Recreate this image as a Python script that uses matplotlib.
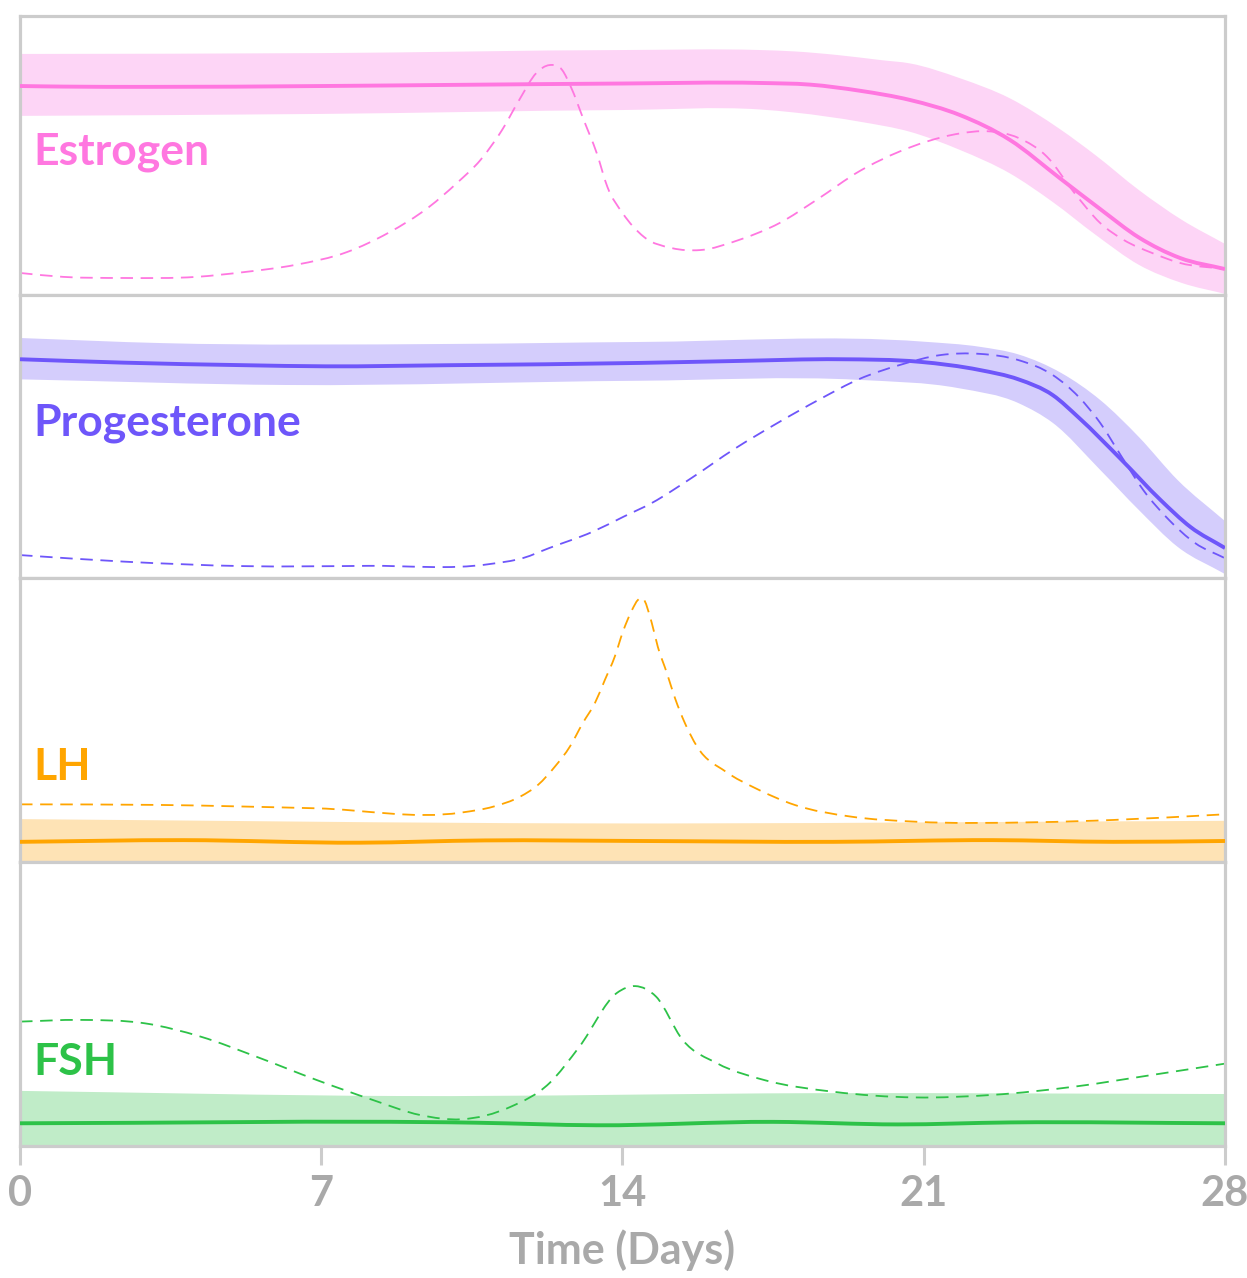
import numpy as np
import matplotlib
matplotlib.use("Agg")
import matplotlib.pyplot as plt
from matplotlib.path import Path
from matplotlib.patches import PathPatch

# ---------------- data (levels on a 0-100 scale per panel) ----------------
hormones = ["Estrogen", "Progesterone", "LH", "FSH"]
line_colors = ["#ff77e0", "#6e56fa", "#ffa500", "#2dc248"]
band_colors = ["#fdd5f6", "#d4cdfc", "#fee3b5", "#c0ecc8"]

# Estrogen
est_mean_days = [0, 1, 3, 7, 10, 14, 17.19, 18.36, 19.52, 20.68, 21.84, 23.0, 24.16, 25.1,
                 26.0, 26.95, 28]
est_mean = [74.9, 74.7, 74.6, 74.9, 75.3, 75.8, 76.0, 75.4, 73.2, 69.9, 64.5, 55.6, 41.9, 30.8,
            20.6, 13.3, 9.3]
est_hi_days = [0, 7, 14, 17.19, 18, 19, 20, 20.68, 21.84, 23, 24.16, 25, 26, 27, 28]
est_hi = [86.4, 86.7, 87.8, 87.8, 87.3, 86.0, 84.2, 83.0, 77.7, 70.5, 59.5, 50.0, 37.6, 26.9, 18.3]
est_lo_days = [0, 7, 14, 17.19, 18, 19.52, 20.68, 21.84, 23, 24, 25, 26, 27, 28]
est_lo = [64.2, 64.9, 66.3, 66.5, 65.4, 62.1, 58.5, 52.0, 43.6, 33.3, 21.5, 10.8, 4.3, 0.4]
est_dash_days = [0, 1.0, 2.4, 4.1, 5.2, 6.4, 7.6, 8.55, 9.5, 10.15, 10.7, 11.2, 11.6, 12.0,
                 12.3, 12.6, 12.8, 13.1, 13.4, 13.65, 14.0, 14.5, 15.15, 15.8, 16.7, 17.65,
                 18.5, 19.52, 20.45, 21.07, 21.84, 22.47, 23.2, 23.86, 24.5, 25.1, 25.65, 26.3,
                 26.95, 28]
est_dash = [7.9, 6.5, 6.1, 6.5, 8.2, 10.8, 15.4, 22.2, 31.5, 40.1, 48.4, 59.1, 69.9, 79.6,
            82.4, 80.6, 74.6, 62.7, 50.9, 38.7, 29.4, 20.8, 16.8, 16.1, 19.7, 25.8,
            34.0, 44.5, 51.5, 55.0, 57.9, 58.7, 56.3, 49.6, 36.6, 25.8, 19.7, 15.1,
            11.5, 9.3]

# Progesterone
prog_mean_days = [0, 2.4, 5.2, 7.1, 10.0, 14.4, 16.7, 19.05, 20.9, 22.3, 23.2, 24.0, 24.6,
                  25.6, 26.5, 27.2, 28]
prog_mean = [77.3, 76.1, 75.2, 74.8, 75.2, 76.0, 76.7, 77.3, 76.4, 73.5, 70.2, 64.6, 56.7,
             41.7, 27.6, 18.0, 10.6]
prog_hi_days = [0, 3.3, 10, 14.4, 21, 22.3, 23.2, 24.2, 25.1, 26.0, 26.9, 28]
prog_hi = [84.8, 83.0, 82.7, 83.4, 83.5, 81.7, 79.0, 72.4, 62.9, 49.8, 34.6, 20.1]
prog_lo_days = [0, 6.2, 14.4, 19.5, 21.8, 23.2, 24.0, 25.1, 26.0, 26.9, 28]
prog_lo = [70.2, 68.2, 69.7, 70.0, 67.1, 61.8, 54.8, 38.2, 24.0, 11.0, 1.4]
prog_dash_days = [0, 2.4, 5.2, 8.1, 10.9, 11.7, 12.3, 13.3, 14.03, 14.68, 15.6, 16.6, 17.56,
                  18.6, 19.5, 20.45, 21.4, 22.3, 23.2, 24.0, 24.6, 25.1, 25.6, 26.1, 26.7,
                  27.3, 28]
prog_dash = [8.1, 5.8, 4.2, 4.3, 4.9, 7.1, 10.6, 16.3, 21.7, 26.5, 35.3, 45.6, 54.4,
             63.3, 70.3, 75.3, 78.8, 79.2, 77.0, 71.7, 64.0, 54.8, 42.8, 31.1, 20.5,
             12.4, 7.0]

# LH
lh_mean_days = [0, 3.8, 7.9, 10.8, 14.4, 18.9, 22.6, 25.4, 28]
lh_mean = [7.1, 7.7, 6.8, 7.6, 7.4, 7.1, 7.7, 7.1, 7.4]
lh_hi_days = [0, 13, 28]
lh_hi = [15.1, 13.6, 14.5]
lh_lo_days = [0, 28]
lh_lo = [-2.0, -2.0]
lh_dash_days = [0, 3.2, 6.9, 10.25, 11.0, 11.62, 12.04, 12.43, 12.78, 13.08, 13.36, 13.59,
                13.82, 14.01, 14.22, 14.36, 14.47, 14.68, 14.82, 15.03, 15.22, 15.45, 15.73,
                16.4, 17.1, 18.0, 19.3, 20.8, 23.6, 25.4, 28]
lh_dash = [20.3, 20.1, 18.9, 17.4, 19.5, 23.0, 27.2, 33.6, 40.7, 49.0, 56.0, 64.1,
           72.3, 81.1, 88.7, 92.3, 92.9, 84.2, 75.8, 66.6, 57.7, 48.9, 40.7,
           31.8, 25.9, 20.1, 16.0, 14.2, 14.0, 14.8, 16.8]

# FSH
fsh_mean_days = [0, 10.6, 13.4, 17.5, 20.4, 23.0, 28]
fsh_mean = [8.0, 8.2, 7.3, 8.5, 7.6, 8.3, 8.0]
fsh_hi_days = [0, 8.8, 18.5, 28]
fsh_hi = [19.4, 17.6, 18.6, 18.3]
fsh_lo_days = [0, 28]
fsh_lo = [-2.0, -2.0]
fsh_dash_days = [0, 1.4, 2.9, 4.2, 5.5, 6.9, 8.2, 9.3, 10.25, 11.4, 12.3, 13.0, 13.87, 14.3,
                 14.78, 15.4, 16.2, 17.3, 18.9, 20.8, 22.6, 24.5, 26.3, 28]
fsh_dash = [43.8, 44.4, 43.2, 38.5, 31.4, 23.2, 16.2, 10.9, 9.4, 13.8, 22.1, 35.0, 53.9, 56.3,
            52.6, 37.3, 29.1, 23.2, 19.1, 17.1, 18.0, 20.9, 25.0, 29.0]

x_ticks = [0, 7, 14, 21, 28]
x_label = "Time (Days)"

series = [
    (est_mean_days, est_mean, est_hi_days, est_hi, est_lo_days, est_lo, est_dash_days, est_dash),
    (prog_mean_days, prog_mean, prog_hi_days, prog_hi, prog_lo_days, prog_lo, prog_dash_days, prog_dash),
    (lh_mean_days, lh_mean, lh_hi_days, lh_hi, lh_lo_days, lh_lo, lh_dash_days, lh_dash),
    (fsh_mean_days, fsh_mean, fsh_hi_days, fsh_hi, fsh_lo_days, fsh_lo, fsh_dash_days, fsh_dash),
]
label_y = [0.466, 0.505, 0.289, 0.25]


# ---------------- smooth curve helper (cubic Hermite drawn as Bezier path) ----------------
def hermite_segments(xs, ys):
    xs = np.asarray(xs, float)
    ys = np.asarray(ys, float)
    n = len(xs)
    if n == 2:
        return [(xs[1], ys[1])], [Path.LINETO]
    h = np.diff(xs)
    d = np.diff(ys) / h
    m = np.zeros(n)
    m[0] = d[0]
    m[-1] = d[-1]
    for i in range(1, n - 1):
        m[i] = (h[i] * d[i - 1] + h[i - 1] * d[i]) / (h[i - 1] + h[i])
    verts, codes = [], []
    for i in range(n - 1):
        hh = xs[i + 1] - xs[i]
        verts += [(xs[i] + hh / 3, ys[i] + m[i] * hh / 3),
                  (xs[i + 1] - hh / 3, ys[i + 1] - m[i + 1] * hh / 3),
                  (xs[i + 1], ys[i + 1])]
        codes += [Path.CURVE4] * 3
    return verts, codes


def curve_path(xs, ys):
    v, c = hermite_segments(xs, ys)
    return Path([(xs[0], ys[0])] + v, [Path.MOVETO] + c)


def band_path(xh, yh, xl, yl):
    v1, c1 = hermite_segments(xh, yh)
    xl_r = list(xl)[::-1]
    yl_r = list(yl)[::-1]
    v2, c2 = hermite_segments(xl_r, yl_r)
    verts = [(xh[0], yh[0])] + v1 + [(xl_r[0], yl_r[0])] + v2 + [(xh[0], yh[0])]
    codes = [Path.MOVETO] + c1 + [Path.LINETO] + c2 + [Path.CLOSEPOLY]
    return Path(verts, codes)


# ---------------- figure ----------------
plt.rcParams['lines.scale_dashes'] = False
W, H = 1247, 1278
fig = plt.figure(figsize=(W / 100, H / 100), dpi=100)
gs = fig.add_gridspec(4, 1, left=20 / W, right=1225 / W, bottom=1 - 1146 / H, top=1 - 16 / H,
                      hspace=0, height_ratios=[279, 283, 284, 284])
grey = "#cccccc"
text_grey = "#a9a9a9"
font = "Lato"

axes = []
for i in range(4):
    ax = fig.add_subplot(gs[i])
    axes.append(ax)
    md, mv, hd, hv, ld, lv, dd, dv = series[i]
    ax.set_xlim(0, 28)
    ax.set_ylim(0, 100)
    band = PathPatch(band_path(hd, hv, ld, lv), facecolor=band_colors[i], edgecolor="none", zorder=1)
    ax.add_patch(band)
    dash = PathPatch(curve_path(dd, dv), facecolor="none", edgecolor=line_colors[i],
                     linewidth=1.3, linestyle=(0, (9, 5.5)), zorder=2)
    ax.add_patch(dash)
    solid = PathPatch(curve_path(md, mv), facecolor="none", edgecolor=line_colors[i],
                      linewidth=2.8, zorder=3, capstyle="butt")
    ax.add_patch(solid)
    ax.text(0.0108, label_y[i], hormones[i], transform=ax.transAxes, color=line_colors[i],
            fontsize=32, fontweight="bold", family=font, va="baseline", ha="left")
    for s in ax.spines.values():
        s.set_color(grey)
        s.set_linewidth(2.3)
    ax.set_yticks([])
    ax.set_xticks(x_ticks)
    if i < 3:
        ax.tick_params(axis="x", length=0, labelbottom=False)
    else:
        ax.tick_params(axis="x", length=14, width=2.2, color=grey, pad=7,
                       labelcolor=text_grey, labelsize=30)
        for lab in ax.get_xticklabels():
            lab.set_fontweight("bold")
            lab.set_family(font)
        ax.set_xlabel(x_label, fontsize=31, fontweight="bold", family=font, color=text_grey,
                      labelpad=12)

fig.savefig("out.png", dpi=100, facecolor="white")
